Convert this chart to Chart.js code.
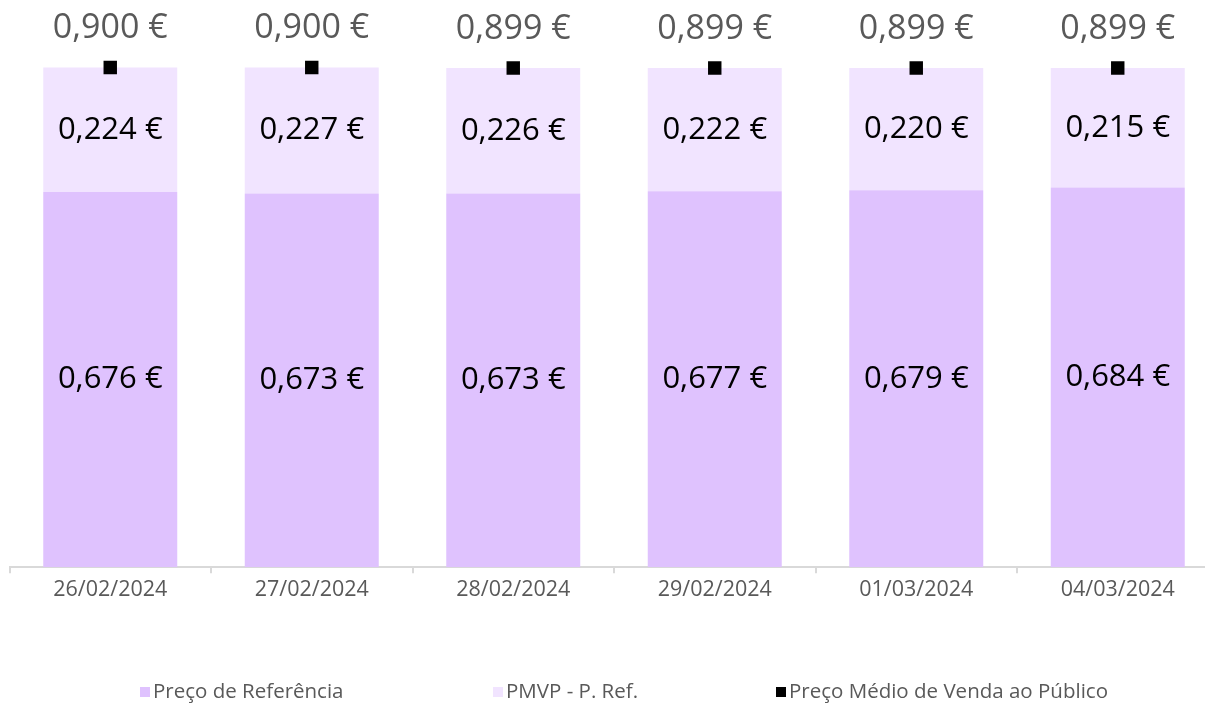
<!DOCTYPE html>
<html>
<head>
<meta charset="utf-8">
<script src="https://cdn.jsdelivr.net/npm/chart.js@4/dist/chart.umd.min.js"></script>
<style>
  html, body { margin: 0; padding: 0; background: #fff; overflow: hidden; width: 1205px; height: 704px; }
  #wrap { position: relative; width: 1228px; height: 704px; }
  #legend { position: absolute; top: 676px; left: 0; width: 1205px; height: 28px;
    font: 20.5px "Open Sans", sans-serif; color: #595959; }
  #legend .it { position: absolute; top: 0; white-space: nowrap; }
  #legend .sw { display: inline-block; width: 10px; height: 10px; margin-right: 3px; vertical-align: 1px; }
</style>
</head>
<body>
<div id="wrap">
  <canvas id="c" width="1228" height="704"></canvas>
  <div id="legend"></div>
</div>
<script>
'use strict';
// datas e valores (€)
const dias = ['26/02/2024', '27/02/2024', '28/02/2024', '29/02/2024', '01/03/2024', '04/03/2024'];
const precoRef = [0.676, 0.673, 0.673, 0.677, 0.679, 0.684];
const pmvpMenosRef = [0.224, 0.227, 0.226, 0.222, 0.220, 0.215];
const pmvp = [0.900, 0.900, 0.899, 0.899, 0.899, 0.899];

const nomes = ['Preço de Referência', 'PMVP - P. Ref.', 'Preço Médio de Venda ao Público'];
const cores = ['#dfc2fe', '#f1e4ff', '#000000'];

function eur(v) { return v.toFixed(3).replace('.', ',') + ' €'; }

// rótulos: dentro das barras (centrados) e acima dos pontos
const valueLabels = {
  id: 'valueLabels',
  afterDatasetsDraw(chart) {
    const { ctx } = chart;
    ctx.save();
    ctx.textAlign = 'center';
    ctx.textBaseline = 'middle';
    chart.data.datasets.forEach((ds, di) => {
      const meta = chart.getDatasetMeta(di);
      meta.data.forEach((el, i) => {
        const t = eur(ds.data[i]);
        if (meta.type === 'bar') {
          ctx.font = '31px "Open Sans", sans-serif';
          ctx.fillStyle = '#000';
          ctx.fillText(t, el.x, (el.y + el.base) / 2);
        } else {
          ctx.font = '34px "Open Sans", sans-serif';
          ctx.fillStyle = '#595959';
          ctx.fillText(t, el.x, el.y - 39);
        }
      });
    });
    ctx.restore();
  },
};

new Chart(document.getElementById('c'), {
  data: {
    labels: dias,
    datasets: [
      { type: 'bar', label: nomes[0], data: precoRef, backgroundColor: cores[0],
        barPercentage: 0.665, categoryPercentage: 1, stack: 'p' },
      { type: 'bar', label: nomes[1], data: pmvpMenosRef, backgroundColor: cores[1],
        barPercentage: 0.665, categoryPercentage: 1, stack: 'p' },
      { type: 'line', label: nomes[2], data: pmvp, showLine: false, order: -1, stack: 'l',
        pointStyle: 'rect', pointRadius: 9.5, pointBackgroundColor: cores[2], pointBorderWidth: 0 },
    ],
  },
  plugins: [valueLabels],
  options: {
    responsive: false,
    animation: false,
    layout: { padding: { top: 12, left: 9, right: 2, bottom: 97 } },
    plugins: { legend: { display: false }, tooltip: { enabled: false } },
    scales: {
      x: {
        stacked: true,
        offset: true,
        grid: { offset: true, drawOnChartArea: false, color: '#d9d9d9', lineWidth: 2, tickLength: 6 },
        border: { color: '#d9d9d9', width: 2 },
        ticks: { color: '#595959', font: { family: 'Open Sans', size: 21.5 }, padding: 4 },
      },
      y: { stacked: true, display: false, min: 0, max: 1.0 },
    },
  },
});

// legenda
const posLeg = [140, 493, 776];
document.getElementById('legend').innerHTML = nomes.map((n, i) =>
  `<span class="it" style="left:${posLeg[i]}px"><span class="sw" style="background:${cores[i]}"></span>${n}</span>`).join('');
</script>
</body>
</html>
